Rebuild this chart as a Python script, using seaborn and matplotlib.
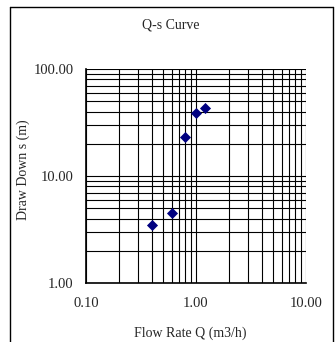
import matplotlib
matplotlib.use("Agg")
import matplotlib.pyplot as plt
import matplotlib.ticker as mticker
from matplotlib.lines import Line2D
import pandas as pd
import seaborn as sns

# data
flow_q = [0.4, 0.6, 0.8, 1.0, 1.2]
drawdown_s = [3.5, 4.5, 23.0, 39.0, 43.0]

df = pd.DataFrame({"Q": flow_q, "s": drawdown_s})

sns.set_style("white")
plt.rcParams['font.family'] = ['Liberation Serif', 'DejaVu Serif']

W, H = 335, 342
fig = plt.figure(figsize=(W / 100, H / 100), dpi=100)
ax = fig.add_axes([86 / W, 1 - 283 / H, 220 / W, 214 / H])

sns.scatterplot(data=df, x="Q", y="s", marker="D", color="#000080",
                s=32, edgecolor="#000080", linewidth=0, ax=ax, zorder=3)

ax.set_xscale("log")
ax.set_yscale("log")
ax.set_xlim(0.1, 10)
ax.set_ylim(1, 100)

fmt = mticker.FuncFormatter(lambda v, p: f"{v:.2f}")
ax.xaxis.set_major_formatter(fmt)
ax.yaxis.set_major_formatter(fmt)
ax.xaxis.set_minor_formatter(mticker.NullFormatter())
ax.yaxis.set_minor_formatter(mticker.NullFormatter())
ax.set_xticks([0.1, 1, 10])
ax.set_yticks([1, 10, 100])
ax.xaxis.set_minor_locator(mticker.LogLocator(base=10, subs=range(2, 10)))
ax.yaxis.set_minor_locator(mticker.LogLocator(base=10, subs=range(2, 10)))

ax.grid(True, which="both", color="black", linewidth=0.8)
ax.tick_params(which="both", length=0, labelsize=10.5)
ax.tick_params(axis="x", pad=10)
ax.tick_params(axis="y", pad=9)

for side in ["left", "bottom"]:
    ax.spines[side].set_color("black")
    ax.spines[side].set_linewidth(1.2)
for side in ["top", "right"]:
    ax.spines[side].set_visible(False)

ax.set_xlabel("")
ax.set_ylabel("")
fig.text(171 / W, 1 - 25 / H, "Q-s Curve", fontsize=10, ha="center", va="center")
fig.text(190 / W, 1 - 333 / H, "Flow Rate Q (m3/h)", fontsize=10, ha="center", va="center")
fig.text(23 / W, 1 - 170 / H, "Draw Down s (m)", fontsize=10, ha="center", va="center",
         rotation=90)

# outer chart border
border = [
    Line2D([10 / W, 10 / W], [0, 1 - 7 / H]),
    Line2D([10 / W, 333 / W], [1 - 7 / H, 1 - 7 / H]),
    Line2D([333 / W, 333 / W], [0, 1 - 7 / H]),
]
for ln in border:
    ln.set_color("black")
    ln.set_linewidth(1.0)
    fig.add_artist(ln)

fig.savefig("out.png", dpi=100)
